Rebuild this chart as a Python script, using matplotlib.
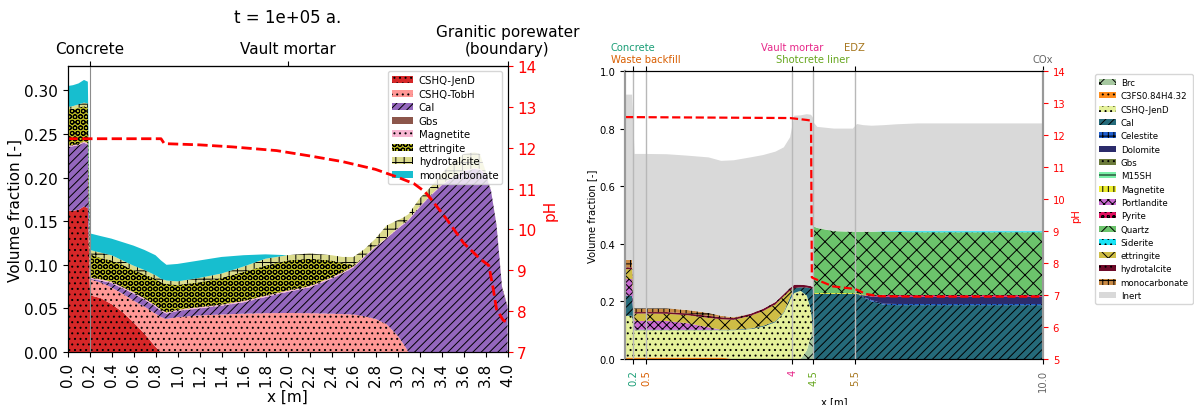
import matplotlib
matplotlib.use("Agg")
import matplotlib.pyplot as plt
from matplotlib.transforms import blended_transform_factory

plt.rcParams['hatch.linewidth'] = 0.7
plt.rcParams['hatch.color'] = 'black'

W, H = 1194, 406
fig = plt.figure(figsize=(W / 100, H / 100), dpi=100)


def px_axes(left, top, right, bottom):
    return fig.add_axes([left / W, 1 - bottom / H, (right - left) / W, (bottom - top) / H])


# ---------------- left panel: concrete / vault mortar at t = 1e5 a ----------------
x_left = [0.0, 0.05, 0.10, 0.15, 0.185, 0.205, 0.3, 0.4, 0.5, 0.6, 0.7, 0.8, 0.85, 0.9,
          1.0, 1.2, 1.4, 1.6, 1.8, 2.0, 2.2, 2.4, 2.5, 2.6, 2.7, 2.8, 2.9, 3.0, 3.05,
          3.1, 3.2, 3.3, 3.4, 3.5, 3.6, 3.7, 3.75, 3.8, 3.85, 3.9, 3.95, 4.0]

cshq_jend_l = [.162, .162, .163, .167, .165, .065, .062, .055, .046, .034, .021, .006] + [0] * 30
cshq_tobh_l = [0] * 5 + [.018, .018, .019, .021, .025, .031, .038, .040, .038, .040, .042, .043,
                         .044, .0445, .0447, .0445, .044, .0435, .043, .041, .038, .032, .019,
                         .010] + [0] * 13
cal_l = [.073, .074, .074, .073, .073, .001, .002, .005, .006, .008, .008, .008, .007, .006,
         .007, .008, .010, .013, .0185, .0243, .0295, .040, .0465, .054, .068, .082, .098,
         .122, .136, .151, .166, .179, .191, .200, .207, .210, .209, .204, .185, .145, .074,
         .052]
gbs_l = [0] * 39 + [.001, .001, .001]
magnetite_l = [.0015] * 24 + [.001] * 14 + [0] * 4
ettringite_l = [.0425, .0415, .0415, .0405, .0405, .0265, .0245, .0245, .0255, .0255, .0275,
                .0305, .0315, .0325, .0285, .0285, .0305, .0335, .0345, .0345, .0315, .0195,
                .0105, .0015] + [0] * 18
hydrotalcite_l = [.002, .003, .004, .004, .005, .005, .006, .006, .005, .005, .005, .004, .004,
                  .004, .004, .005, .005, .006, .008, .006, .006, .006, .007, .009, .008, .009,
                  .014, .009, .007, .006, .009, .009, .012, .017, .019, .018, .017, .003,
                  0, 0, 0, 0]
monocarbonate_l = [.024, .024, .024, .026, .025, .019, .019, .019, .021, .023, .023, .023, .021,
                   .018, .020, .020, .019, .013, .005] + [0] * 23

names_left = ['CSHQ-JenD', 'CSHQ-TobH', 'Cal', 'Gbs', 'Magnetite', 'ettringite',
              'hydrotalcite', 'monocarbonate']
layers_left = [cshq_jend_l, cshq_tobh_l, cal_l, gbs_l, magnetite_l, ettringite_l,
               hydrotalcite_l, monocarbonate_l]
colors_left = ['#d62728', '#ff9896', '#9467bd', '#8c564b', '#f7b6d2', '#bcbd22',
               '#dbdb8d', '#17becf']
hatches_left = ['...', '...', '////', '-', '...', 'OOO', '++', '']

x_ph_left = [0.0, 0.85, 0.88, 1.2, 1.5, 1.9, 2.2, 2.5, 2.8, 3.0, 3.15, 3.25, 3.3, 3.45, 3.6,
             3.75, 3.83, 3.87, 3.9, 3.96, 4.0]
ph_left = [12.22, 12.22, 12.10, 12.07, 12.02, 11.93, 11.80, 11.66, 11.47, 11.28, 11.12,
           10.92, 10.76, 10.24, 9.67, 9.28, 9.12, 8.55, 8.05, 7.78, 7.72]

left_ticks = [round(0.2 * i, 1) for i in range(21)]
left_zones = [0.2, 2.0, 4.0]
left_zone_names = ['Concrete', 'Vault mortar', 'Granitic porewater\n(boundary)']

FS_L = 11
ax = px_axes(67.5, 67, 507.5, 353)
polys = ax.stackplot(x_left, *layers_left, labels=names_left, colors=colors_left, linewidth=0)
for p, h in zip(polys, hatches_left):
    p.set_hatch(h)
ax.axvline(0.2, color='0.55', lw=0.8, zorder=3)
ax.set_xlim(0, 4)
ax.set_ylim(0, 0.328)
ax.set_xticks(left_ticks, [f'{v:.1f}' for v in left_ticks], rotation=90)
ax.set_yticks([0, .05, .10, .15, .20, .25, .30])
ax.tick_params(labelsize=FS_L)
ax.set_xlabel('x [m]', fontsize=FS_L, labelpad=2)
ax.set_ylabel('Volume fraction [-]', fontsize=FS_L, labelpad=1)
ax.legend(loc='upper right', fontsize=7.3, labelspacing=0.35, borderpad=0.4,
          handletextpad=0.6)

sec = ax.secondary_xaxis('top')
sec.set_xticks(left_zones, left_zone_names)
sec.tick_params(labelsize=FS_L)

axp = ax.twinx()
axp.plot(x_ph_left, ph_left, color='red', ls='--', lw=2)
axp.set_ylim(7, 14)
axp.set_yticks(range(7, 15))
axp.tick_params(axis='y', colors='red', labelsize=FS_L)
axp.set_ylabel('pH', color='red', fontsize=FS_L)
fig.text(287.5 / W, 1 - 18 / H, 't = 1e+05 a.', ha='center', va='center', fontsize=12)

# ---------------- right panel: full profile through the host rock ----------------
x_right = [0.0, 0.17, 0.23, 0.5, 1.0, 1.5, 2.0, 2.3, 2.6, 3.0, 3.3, 3.6, 3.8, 3.95, 4.05,
           4.2, 4.35, 4.45, 4.49, 4.52, 4.6, 5.0, 5.45, 5.55, 5.7, 5.9, 6.2, 6.5, 7.0, 8.0,
           9.0, 10.0]

brc_r = [0] * 16 + [.03, .08, .10] + [0] * 13
c3fs_r = [.005] * 8 + [0] * 24
cshq_jend_r = [.145, .145, .095, .095, .095, .095, .095, .095, .100, .104, .112, .128, .160,
               .205, .229, .237, .19, .09, .01] + [0] * 13
cal_r = [.07, .07, .002, .002, .002, .002, .002, .002, .002, .002, .003, .003, .003, .010,
         .017, .012, .028, .075, .135, .226, .226, .226, .226, .226, .215, .200, .188, .187,
         .187, .187, .187, .187]
celestite_r = [0] * 24 + [.002, .004, .004, .004, .004, .004, .004, .004]
dolomite_r = [0] * 24 + [.004, .013, .025, .025, .025, .025, .025, .025]
gbs_r = [0] * 32
m15sh_r = [0] * 32
magnetite_r = [0] * 19 + [.003, .003, .003, .003, .003, .002] + [0] * 7
portlandite_r = [.058, .058, .030, .030, .030, .022, .008] + [0] * 25
pyrite_r = [0] * 25 + [.004] + [.006] * 6
quartz_r = [0] * 19 + [.231, .226, .215, .213, .213, .219, .221, .219, .219, .218, .218, .218,
                       .218]
siderite_r = [0] * 26 + [.002, .003, .004, .004, .004, .004]
ettringite_r = [.034, .034, .026, .026, .025, .028, .033, .036, .034, .044, .051, .059, .055,
                .023] + [0] * 18
hydrotalcite_r = [.006, .006, .005, .005, .006, .006, .007, .007, .006, .007, .008, .008, .008,
                  .009, .012, .009, .008, .008, .005] + [0] * 13
monocarbonate_r = [.026, .026, .013, .013, .013, .012, .010, .005, .003] + [0] * 23
inert_r = [.574, .574, .536, .536, .535, .536, .540, .538, .545, .543, .534, .522, .509, .523,
           .587, .588, .594, .595, .590, .360, .351, .356, .358, .374, .370, .368, .368, .371,
           .374, .374, .374, .374]

names_right = ['Brc', 'C3FS0.84H4.32', 'CSHQ-JenD', 'Cal', 'Celestite', 'Dolomite', 'Gbs',
               'M15SH', 'Magnetite', 'Portlandite', 'Pyrite', 'Quartz', 'Siderite',
               'ettringite', 'hydrotalcite', 'monocarbonate', 'Inert']
layers_right = [brc_r, c3fs_r, cshq_jend_r, cal_r, celestite_r, dolomite_r, gbs_r, m15sh_r,
                magnetite_r, portlandite_r, pyrite_r, quartz_r, siderite_r, ettringite_r,
                hydrotalcite_r, monocarbonate_r, inert_r]
colors_right = ['#a6c8a0', '#ff8c1a', '#e5f19b', '#256a7a', '#1f5fd0', '#2b2b6b', '#6b7a3a',
                '#7af0a8', '#ecec30', '#c86ad0', '#e0105f', '#6cc46c', '#19e3f5', '#cfbd45',
                '#6e0a2a', '#c98a45', '#d9d9d9']
hatches_right = ['xx', '...', '...', '////', '+++', '-', '...', '-', '|||', 'xxxx', 'ooo',
                 'xx', '...', 'xx', '...', '+++', '']

x_ph_right = [0.0, 3.95, 4.35, 4.45, 4.47, 4.55, 4.97, 5.5, 5.77, 6.1, 7.0, 10.0]
ph_right = [12.56, 12.53, 12.47, 12.45, 7.55, 7.50, 7.27, 7.19, 7.03, 6.96, 6.95, 6.95]

bounds = [0.2, 0.5, 4, 4.5, 5.5, 10.0]
bound_ticklabels = ['0.2', '0.5', '4', '4.5', '5.5', '10.0']
zone_names = ['Concrete', 'Waste backfill', 'Vault mortar', 'Shotcrete liner', 'EDZ', 'COx']
zone_rows = [0, 1, 0, 1, 0, 1]
zone_colors = ['#1b9e77', '#d95f02', '#e7298a', '#66a61e', '#a6761d', '#666666']

FS_R = 7.2
ax2 = px_axes(625, 72, 1043, 360)
polys = ax2.stackplot(x_right, *layers_right, labels=names_right, colors=colors_right,
                      linewidth=0)
for p, h in zip(polys, hatches_right):
    p.set_hatch(h)
for b in bounds[:-1]:
    ax2.axvline(b, color='0.72', lw=1, zorder=3)
ax2.set_xlim(0, 10)
ax2.set_ylim(0, 1)
ax2.set_xticks(bounds, bound_ticklabels, rotation=90)
for lbl, c in zip(ax2.get_xticklabels(), zone_colors):
    lbl.set_color(c)
ax2.set_yticks([0, .2, .4, .6, .8, 1.0])
ax2.tick_params(labelsize=FS_R, top=True)
ax2.set_xlabel('x [m]', fontsize=FS_R)
ax2.set_ylabel('Volume fraction [-]', fontsize=FS_R, labelpad=2)
for side in ('left', 'right'):
    ax2.spines[side].set_color('0.6')
    ax2.spines[side].set_linewidth(1.5)

zone_tf = blended_transform_factory(ax2.transData, ax2.transAxes)
for name, row, c, b in zip(zone_names, zone_rows, zone_colors, bounds):
    ax2.text(b, 1.083 - 0.042 * row, name, color=c, fontsize=FS_R, ha='center',
             va='center', transform=zone_tf, clip_on=False)

ax2p = ax2.twinx()
ax2p.plot(x_ph_right, ph_right, color='red', ls='--', lw=1.6)
ax2p.set_ylim(5, 14)
ax2p.set_yticks(range(5, 15))
ax2p.tick_params(axis='y', colors='red', labelsize=FS_R)
ax2p.set_ylabel('pH', color='red', fontsize=FS_R)
for side in ('left', 'right'):
    ax2p.spines[side].set_color('0.6')
    ax2p.spines[side].set_linewidth(1.5)

ax2.legend(loc='upper left', bbox_to_anchor=(1091 / W, 1 - 71 / H),
           bbox_transform=fig.transFigure, fontsize=6.2, labelspacing=0.5,
           borderpad=0.45, handlelength=1.9, handletextpad=0.6)

fig.savefig('out.png', dpi=100)
